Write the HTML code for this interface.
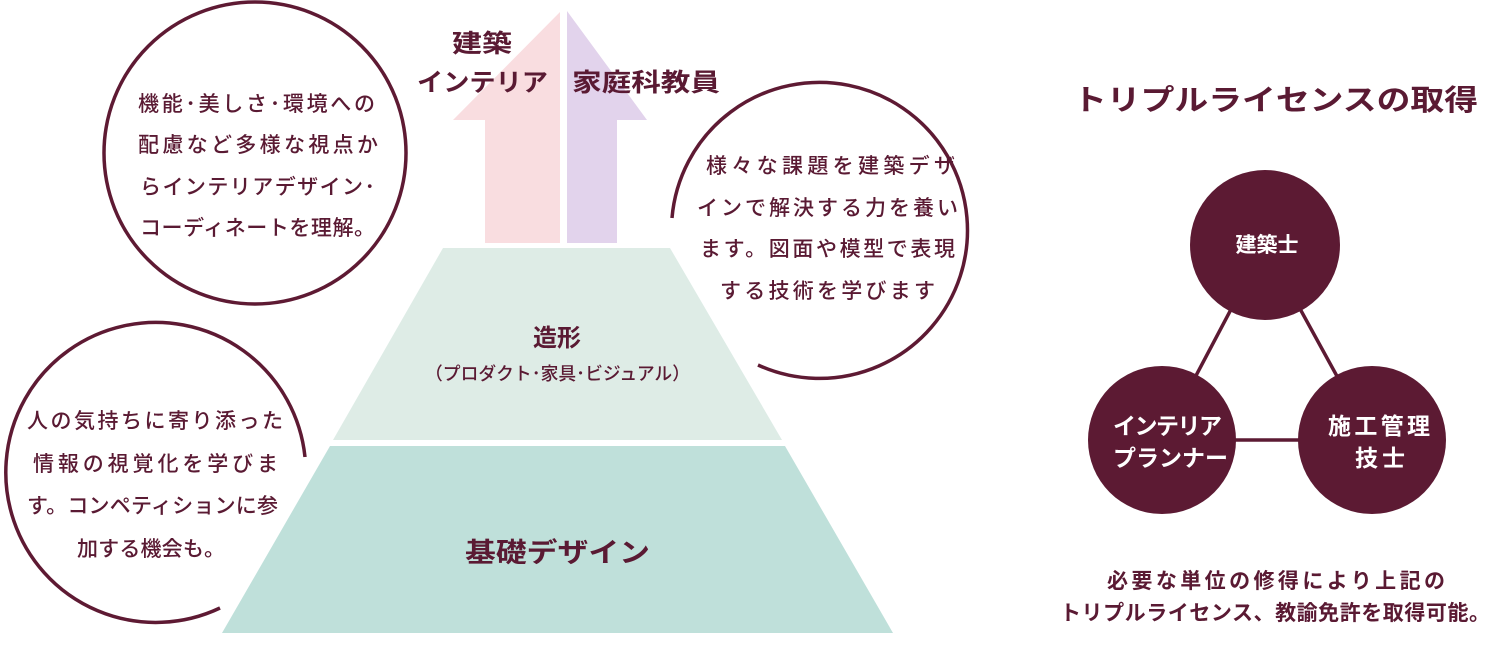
<!DOCTYPE html>
<html><head><meta charset="utf-8"><style>
html,body{margin:0;padding:0;background:#fff;}
svg text{font-family:"Liberation Sans","Noto Sans CJK JP",sans-serif;fill:#5a1a33;}
</style></head><body>
<svg width="1492" height="664" viewBox="0 0 1492 664" xmlns="http://www.w3.org/2000/svg">
<polygon points="560,12 560,243 485,243 485,120 453,120" fill="#f9dde0"/>
<polygon points="567,11 647,120 617,120 617,243 567,243" fill="#e2d3ec"/>
<polygon points="443,248 670,248 782,440 333,440" fill="#deece6"/>
<polygon points="330,446 785,446 893,633 222,633" fill="#bfe0da"/>
<circle cx="255" cy="153" r="151" fill="none" stroke="#5e1a33" stroke-width="3.5"/>
<path d="M 220 608 A 150 150 0 1 1 305 457" fill="none" stroke="#5e1a33" stroke-width="3.5"/>
<path d="M 672 218 A 148 148 0 1 1 758 365" fill="none" stroke="#5e1a33" stroke-width="3.5"/>
<g font-size="25" font-weight="bold">
<text x="452" y="52" textLength="60" lengthAdjust="spacingAndGlyphs">建築</text>
<text x="417" y="91" textLength="131" lengthAdjust="spacingAndGlyphs">インテリア</text>
<text x="572" y="91" textLength="148" lengthAdjust="spacingAndGlyphs">家庭科教員</text>
</g>
<g font-size="21" font-weight="500" lengthAdjust="spacingAndGlyphs">
<text x="138" y="111" textLength="237">機能･美しさ･環境への</text>
<text x="138" y="152" textLength="240">配慮など多様な視点か</text>
<text x="140" y="194" textLength="235">らインテリアデザイン･</text>
<text x="140" y="235" textLength="235">コーディネートを理解。</text>
<text x="27" y="428" textLength="256">人の気持ちに寄り添った</text>
<text x="33" y="471" textLength="245">情報の視覚化を学びま</text>
<text x="27" y="513" textLength="251">す。コンペティションに参</text>
<text x="77" y="556" textLength="148">加する機会も。</text>
<text x="706" y="173" textLength="249">様々な課題を建築デザ</text>
<text x="697" y="215" textLength="261">インで解決する力を養い</text>
<text x="700" y="256" textLength="255">ます。図面や模型で表現</text>
<text x="720" y="298" textLength="215">する技術を学びます</text>
</g>
<text x="557" y="346" font-size="24" font-weight="bold" text-anchor="middle">造形</text>
<text x="425" y="380" font-size="18" font-weight="500" textLength="265" lengthAdjust="spacingAndGlyphs">（プロダクト･家具･ビジュアル）</text>
<text x="465" y="562" font-size="27" font-weight="bold" textLength="185" lengthAdjust="spacingAndGlyphs">基礎デザイン</text>
<text x="1073" y="110" font-size="29" font-weight="bold" textLength="405" lengthAdjust="spacingAndGlyphs">トリプルライセンスの取得</text>
<polygon points="1265,245 1162,440 1372,440" fill="none" stroke="#5c1a33" stroke-width="3.5"/>
<circle cx="1265" cy="245" r="75" fill="#5c1a33"/>
<circle cx="1162" cy="440" r="74" fill="#5c1a33"/>
<circle cx="1372" cy="440" r="74" fill="#5c1a33"/>
<text x="1267" y="252" font-size="21" font-weight="bold" text-anchor="middle" style="fill:#fff">建築士</text>
<g font-size="23" font-weight="bold" lengthAdjust="spacingAndGlyphs">
<text x="1113" y="434" textLength="109" style="fill:#fff">インテリア</text>
<text x="1113" y="466" textLength="115" style="fill:#fff">プランナー</text>
<text x="1328" y="434" textLength="102" style="fill:#fff">施工管理</text>
<text x="1355" y="466" textLength="50" style="fill:#fff">技士</text>
</g>
<g font-size="21" font-weight="bold" lengthAdjust="spacingAndGlyphs">
<text x="1107" y="588" textLength="338">必要な単位の修得により上記の</text>
<text x="1060" y="620" textLength="430">トリプルライセンス、教諭免許を取得可能。</text>
</g>
</svg>
</body></html>
